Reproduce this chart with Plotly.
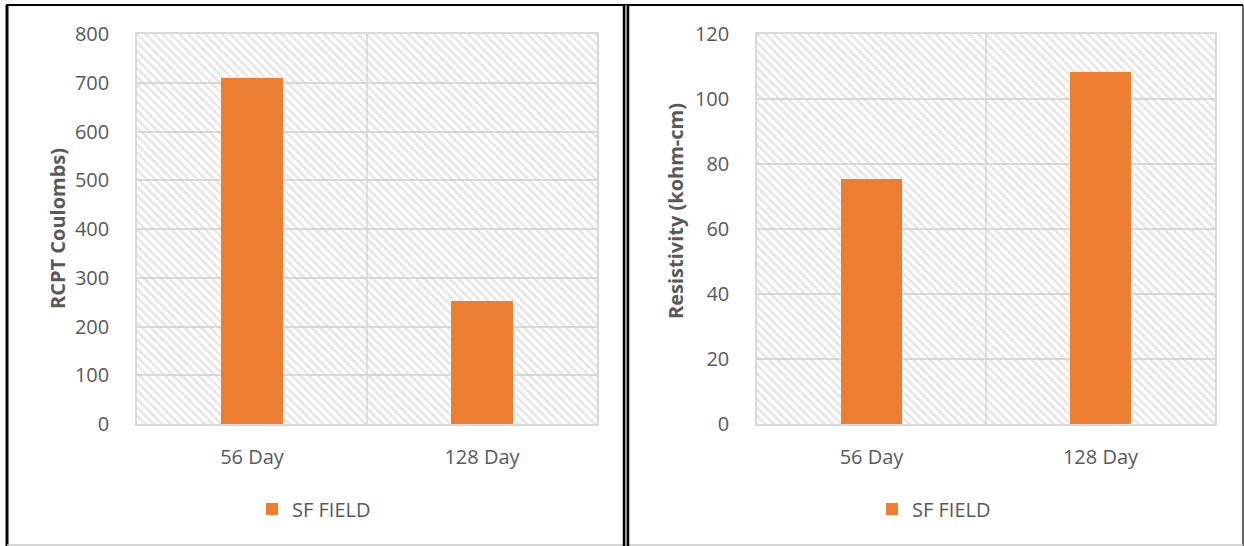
import plotly.graph_objects as go

W, H = 1244, 546

categories = ["56 Day", "128 Day"]
rcpt_values = [710, 252]
resistivity_values = [75.5, 108.2]
series_name = "SF FIELD"

left_title = "RCPT Coulombs)"
right_title = "Resistivity (kohm-cm)"
left_range = [0, 800]
right_range = [0, 120]
left_dtick = 100
right_dtick = 20

ORANGE = "#ED7D31"
GRID = "#D9D9D9"
TXT = "#595959"
FONT = "Open Sans"

fig = go.Figure()

# hatched plot-area backgrounds
for xa, ya, rng in (("x", "y", left_range), ("x2", "y2", right_range)):
    fig.add_trace(go.Bar(
        x=categories, y=[rng[1]] * len(categories), width=1,
        xaxis=xa, yaxis=ya, showlegend=False, hoverinfo="skip",
        marker=dict(color="rgba(0,0,0,0)", line=dict(width=0),
                    pattern=dict(shape="\\", fgcolor="#CDCDCD", bgcolor="rgba(0,0,0,0)",
                                 size=6, solidity=0.45)),
    ))

fig.add_trace(go.Bar(x=categories, y=rcpt_values, name=series_name, width=0.27,
                     marker=dict(color=ORANGE, line=dict(width=0)),
                     xaxis="x", yaxis="y", legend="legend"))
fig.add_trace(go.Bar(x=categories, y=resistivity_values, name=series_name, width=0.27,
                     marker=dict(color=ORANGE, line=dict(width=0)),
                     xaxis="x2", yaxis="y2", legend="legend2"))

def px(v):
    return v / W

def py(v):
    return 1 - v / H

ydom = [py(424), py(34)]
tickfont = dict(family=FONT, size=20, color=TXT)

xcommon = dict(type="category", showgrid=False, showline=True, mirror=True, linecolor=GRID,
               linewidth=1.5, ticks="", tickfont=tickfont, ticklabelstandoff=14, zeroline=False,
               fixedrange=True, automargin=False)
ycommon = dict(showgrid=True, gridcolor=GRID, gridwidth=1.5, showline=True, mirror=True,
               linecolor=GRID, linewidth=1.5, ticks="", tickfont=tickfont,
               ticklabelstandoff=22, zeroline=False, fixedrange=True, automargin=False)

legfont = dict(family=FONT, size=20, color=TXT)
fig.update_layout(
    width=W, height=H, autosize=False, margin=dict(l=0, r=0, t=0, b=0, pad=0),
    paper_bgcolor="white", plot_bgcolor="white",
    barmode="overlay", bargap=0,
    font=dict(family=FONT, color=TXT),
    xaxis=dict(domain=[px(137), px(597)], anchor="y", **xcommon),
    xaxis2=dict(domain=[px(757), px(1215)], anchor="y2", **xcommon),
    yaxis=dict(domain=ydom, anchor="x", range=left_range, dtick=left_dtick, **ycommon),
    yaxis2=dict(domain=ydom, anchor="x2", range=right_range, dtick=right_dtick, **ycommon),
    legend=dict(x=px(252), y=py(509), xanchor="left", yanchor="middle", font=legfont,
                bgcolor="rgba(0,0,0,0)"),
    legend2=dict(x=px(872), y=py(509), xanchor="left", yanchor="middle", font=legfont,
                 bgcolor="rgba(0,0,0,0)"),
)

# axis titles
fig.add_annotation(text=f"<b>{left_title}</b>", xref="paper", yref="paper",
                   x=px(57), y=py(229), xanchor="center", yanchor="middle",
                   textangle=-90, showarrow=False,
                   font=dict(family=FONT, size=20, color=TXT))
fig.add_annotation(text=f"<b>{right_title}</b>", xref="paper", yref="paper",
                   x=px(676), y=py(211), xanchor="center", yanchor="middle",
                   textangle=-90, showarrow=False,
                   font=dict(family=FONT, size=20, color=TXT))

# category divider gridlines
for xa, ya in (("x", "y"), ("x2", "y2")):
    fig.add_shape(type="line", xref=xa, yref=f"{ya} domain", x0=0.5, x1=0.5, y0=0, y1=1,
                  line=dict(color=GRID, width=1.5), layer="below")

# outer frame
shapes = [
    dict(x0=px(6), x1=px(1243), y0=py(5), y1=py(5), color="black", width=2),
    dict(x0=px(7), x1=px(7), y0=py(5), y1=py(546), color="black", width=3),
    dict(x0=px(1243), x1=px(1243), y0=py(5), y1=py(546), color="#333333", width=1.5),
    dict(x0=px(7), x1=px(1243), y0=py(545), y1=py(545), color="#C8C8C8", width=1.5),
    dict(x0=px(624), x1=px(624), y0=py(5), y1=py(546), color="black", width=2.5),
    dict(x0=px(628), x1=px(628), y0=py(5), y1=py(546), color="black", width=2.5),
    dict(x0=px(626), x1=px(626), y0=py(5), y1=py(546), color="#888888", width=1.5),
]
for s in shapes:
    fig.add_shape(type="line", xref="paper", yref="paper", x0=s["x0"], x1=s["x1"],
                  y0=s["y0"], y1=s["y1"], line=dict(color=s["color"], width=s["width"]))

post = (
    "document.documentElement.style.margin='0';"
    "document.body.style.margin='0';document.body.style.padding='0';"
    "document.body.style.overflow='hidden';"
    "var d=document.getElementById('{plot_id}');"
    "d.style.position='absolute';d.style.left='0px';d.style.top='0px';"
)
fig.write_html("out.html", post_script=post, config={"displayModeBar": False})
